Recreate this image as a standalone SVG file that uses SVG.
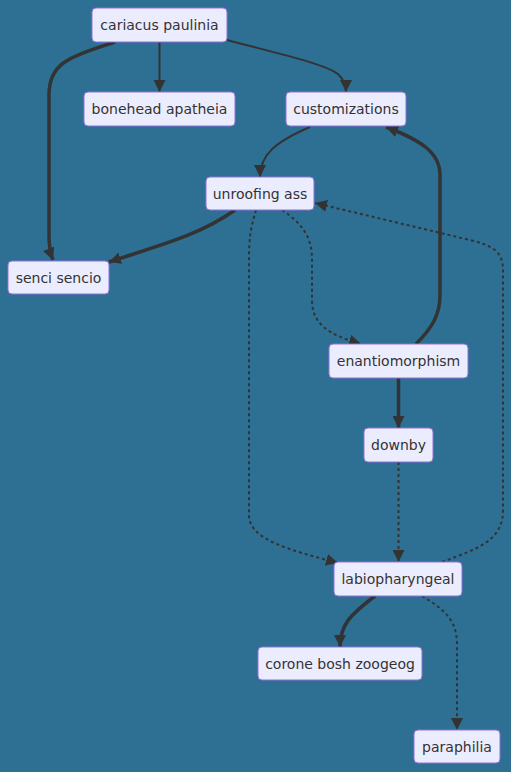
<svg xmlns="http://www.w3.org/2000/svg" width="511" height="772" viewBox="0 0 511 772">
<defs>
<style>
.bg{fill:#2d7094}
.node rect{fill:#ECECFF;stroke:#9370DB;stroke-width:1}
.node text{font-family:"DejaVu Sans",Verdana,sans-serif;font-size:14px;fill:#333333;text-anchor:middle;dominant-baseline:central}
.e{fill:none;stroke:#333333;stroke-width:2}
.thick{stroke-width:3.5}
.dot{stroke-dasharray:3 3}
</style>
<marker id="arr" viewBox="0 0 10 10" refX="10" refY="5" markerWidth="12" markerHeight="12" markerUnits="userSpaceOnUse" orient="auto">
<path d="M0,0 L10,5 L0,10 z" fill="#333333"/>
</marker>
</defs>
<rect class="bg" x="0" y="0" width="511" height="772"/>
<g id="edges">
<path class="e thick" d="M115,42 C70,57 49,62 49,95 L49,235 Q49,250 53,260" marker-end="url(#arr)"/>
<path class="e" d="M159.5,42 L159.5,92" marker-end="url(#arr)"/>
<path class="e" d="M227,40 C280,54 325,64 338,74 Q346,82 346,92" marker-end="url(#arr)"/>
<path class="e" d="M310,127 C275,142 260,155 260,177" marker-end="url(#arr)"/>
<path class="e thick" d="M416,344 C432,328 440,315 440,295 L440,175 C440,152 420,140 386,127" marker-end="url(#arr)"/>
<path class="e thick" d="M235,210 C200,235 160,245 109,262" marker-end="url(#arr)"/>
<path class="e dot" d="M282,210 C305,225 312,240 312,260 L312,300 C312,325 330,335 361,344" marker-end="url(#arr)"/>
<path class="e dot" d="M256,210 C250,230 249,240 249,260 L249,515 C249,540 290,550 338,563" marker-end="url(#arr)"/>
<path class="e dot" d="M442,562 C480,548 503,540 503,510 L503,270 C503,250 490,245 470,240 L315,203" marker-end="url(#arr)"/>
<path class="e thick" d="M398.5,378 L398.5,428" marker-end="url(#arr)"/>
<path class="e dot" d="M398.5,462 L398.5,562" marker-end="url(#arr)"/>
<path class="e thick" d="M375,596 C350,615 340,625 340,647" marker-end="url(#arr)"/>
<path class="e dot" d="M422,596 C445,610 457,620 457,645 L457,730" marker-end="url(#arr)"/>
</g>
<g id="cariacus" class="node"><rect x="92" y="8" width="135" height="34" rx="4"/><text x="159.5" y="25">cariacus paulinia</text></g>
<g id="bonehead" class="node"><rect x="84" y="92" width="151" height="34" rx="4"/><text x="159.5" y="109">bonehead apatheia</text></g>
<g id="customizations" class="node"><rect x="286" y="92" width="120" height="34" rx="4"/><text x="346" y="109">customizations</text></g>
<g id="unroofing" class="node"><rect x="206" y="177" width="108" height="33" rx="4"/><text x="260" y="193.5">unroofing ass</text></g>
<g id="senci" class="node"><rect x="8" y="261" width="101" height="33" rx="4"/><text x="58.5" y="277.5">senci sencio</text></g>
<g id="enantiomorphism" class="node"><rect x="329" y="344" width="139" height="34" rx="4"/><text x="398.5" y="361">enantiomorphism</text></g>
<g id="downby" class="node"><rect x="364" y="428" width="69" height="34" rx="4"/><text x="398.5" y="445">downby</text></g>
<g id="labiopharyngeal" class="node"><rect x="334" y="562" width="128" height="34" rx="4"/><text x="398" y="579">labiopharyngeal</text></g>
<g id="corone" class="node"><rect x="258" y="647" width="164" height="33" rx="4"/><text x="340" y="663.5">corone bosh zoogeog</text></g>
<g id="paraphilia" class="node"><rect x="414" y="730" width="86" height="33" rx="4"/><text x="457" y="746.5">paraphilia</text></g>
</svg>
